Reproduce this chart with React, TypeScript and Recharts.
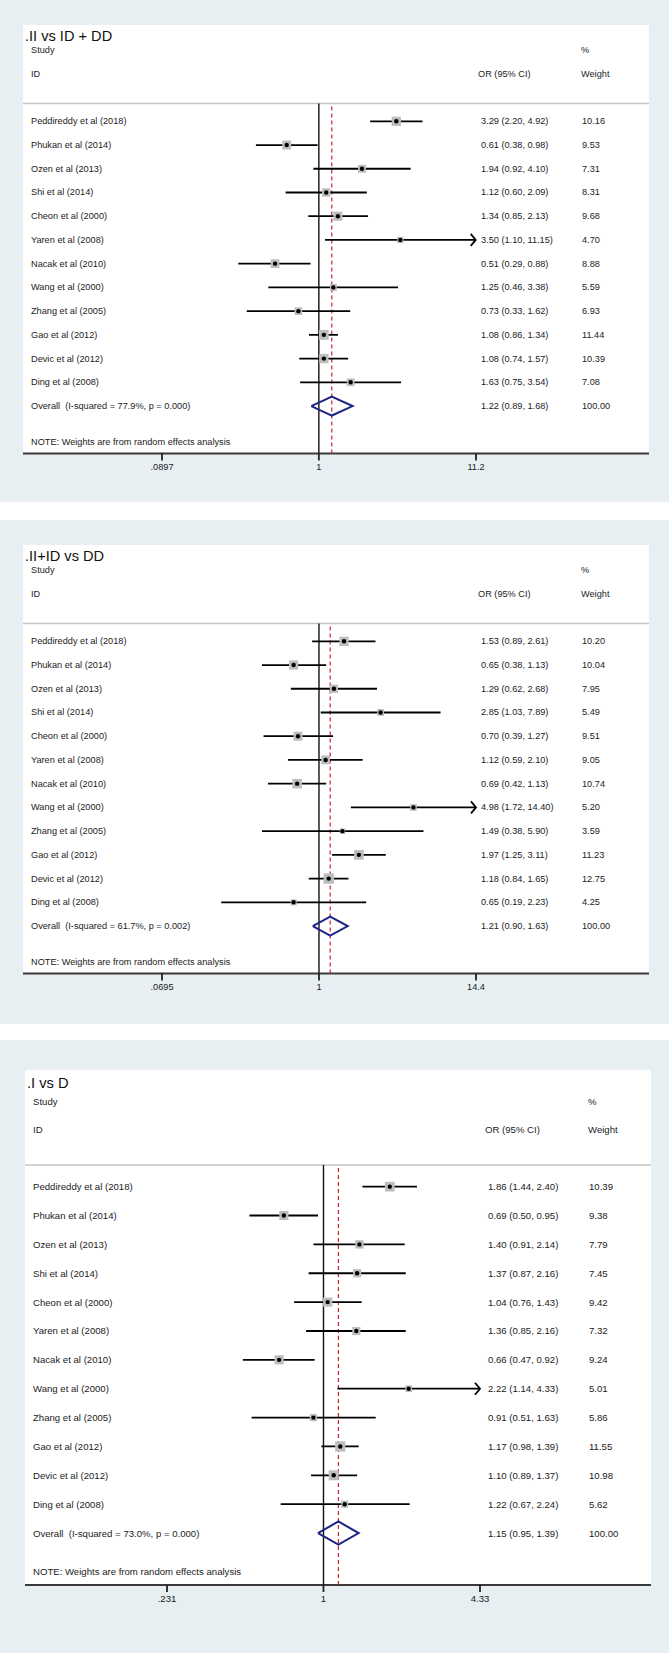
import React from 'react';
import { ScatterChart, Scatter, XAxis, YAxis, ReferenceLine, ErrorBar } from 'recharts';

const studies = [
  'Peddireddy et al (2018)', 'Phukan et al (2014)', 'Ozen et al (2013)', 'Shi et al (2014)',
  'Cheon et al (2000)', 'Yaren et al (2008)', 'Nacak et al (2010)', 'Wang et al (2000)',
  'Zhang et al (2005)', 'Gao et al (2012)', 'Devic et al (2012)', 'Ding et al (2008)',
];

// .II vs ID + DD
const orA = [3.29, 0.61, 1.94, 1.12, 1.34, 3.5, 0.51, 1.25, 0.73, 1.08, 1.08, 1.63];
const loA = [2.2, 0.38, 0.92, 0.6, 0.85, 1.1, 0.29, 0.46, 0.33, 0.86, 0.74, 0.75];
const hiA = [4.92, 0.98, 4.1, 2.09, 2.13, 11.15, 0.88, 3.38, 1.62, 1.34, 1.57, 3.54];
const wtA = [10.16, 9.53, 7.31, 8.31, 9.68, 4.7, 8.88, 5.59, 6.93, 11.44, 10.39, 7.08];
const overallA = [1.22, 0.89, 1.68];
const hetA = ['77.9%', '0.000'];
const arrowA = [5];
const ticksA = [0.0897, 1, 11.2];
const tickLabelsA = ['.0897', '1', '11.2'];

// .II+ID vs DD
const orB = [1.53, 0.65, 1.29, 2.85, 0.7, 1.12, 0.69, 4.98, 1.49, 1.97, 1.18, 0.65];
const loB = [0.89, 0.38, 0.62, 1.03, 0.39, 0.59, 0.42, 1.72, 0.38, 1.25, 0.84, 0.19];
const hiB = [2.61, 1.13, 2.68, 7.89, 1.27, 2.1, 1.13, 14.4, 5.9, 3.11, 1.65, 2.23];
const wtB = [10.2, 10.04, 7.95, 5.49, 9.51, 9.05, 10.74, 5.2, 3.59, 11.23, 12.75, 4.25];
const overallB = [1.21, 0.9, 1.63];
const hetB = ['61.7%', '0.002'];
const arrowB = [7];
const ticksB = [0.0695, 1, 14.4];
const tickLabelsB = ['.0695', '1', '14.4'];

// .I vs D
const orC = [1.86, 0.69, 1.4, 1.37, 1.04, 1.36, 0.66, 2.22, 0.91, 1.17, 1.1, 1.22];
const loC = [1.44, 0.5, 0.91, 0.87, 0.76, 0.85, 0.47, 1.14, 0.51, 0.98, 0.89, 0.67];
const hiC = [2.4, 0.95, 2.14, 2.16, 1.43, 2.16, 0.92, 4.33, 1.63, 1.39, 1.37, 2.24];
const wtC = [10.39, 9.38, 7.79, 7.45, 9.42, 7.32, 9.24, 5.01, 5.86, 11.55, 10.98, 5.62];
const overallC = [1.15, 0.95, 1.39];
const hetC = ['73.0%', '0.000'];
const arrowC = [7];
const ticksC = [0.231, 1, 4.33];
const tickLabelsC = ['.231', '1', '4.33'];

const FONT = '"Liberation Sans", Arial, Helvetica, sans-serif';
const W = 669;
const BG = '#e8eff2';
const INK = '#1b1b1b';

// layout of the first two panels (same export size)
const geomAB = {
  height: 502, boxTop: 25, boxLeft: 23, boxRight: 649, titleX: 25, titleY: 36,
  studyY: 50, idY: 74, sepY: 103.5, noteY: 442, axisY: 453.5, rowTop: -0.75, rowBottom: 14,
  plotLeft: 162, plotRight: 476, nameX: 31, orHeadX: 478, orX: 481, wX: 582,
  font: 9.2, titleFont: 14.6, boxK: 2.9,
};
const geomC = {
  height: 613, boxTop: 30, boxLeft: 25, boxRight: 651, titleX: 27, titleY: 43,
  studyY: 61, idY: 89, sepY: 125, noteY: 531, axisY: 545, rowTop: -0.75, rowBottom: 13.8,
  plotLeft: 167, plotRight: 480, nameX: 33, orHeadX: 485, orX: 488, wX: 589,
  font: 9.6, titleFont: 14.7, boxK: 3.0,
};

const TICK_LEN = 7;
const TICK_GAP = 3;

const fmtCI = (o: number, l: number, h: number) => `${o.toFixed(2)} (${l.toFixed(2)}, ${h.toFixed(2)})`;

function Panel({ top, title, or, lo, hi, wt, overall, het, arrows, ticks, tickLabels, g }: any) {
  const n = studies.length;
  const rows = studies.map((name, i) => ({
    x: or[i], y: i, name, orText: fmtCI(or[i], lo[i], hi[i]), wText: wt[i].toFixed(2), w: wt[i],
    err: [or[i] - lo[i], hi[i] - or[i]],
  }));
  const textRows = [
    ...rows,
    { x: overall[0], y: n, name: `Overall  (I-squared = ${het[0]}, p = ${het[1]})`, orText: fmtCI(overall[0], overall[1], overall[2]), wText: '100.00' },
  ];
  const diamond = [
    { x: overall[1], y: n }, { x: overall[0], y: n - 0.4 }, { x: overall[2], y: n },
    { x: overall[0], y: n + 0.4 }, { x: overall[1], y: n },
  ];
  const arrowPts = arrows.map((i: number) => ({ x: hi[i], y: i }));
  const xAxisH = 30;
  const margin = { top: g.sepY, bottom: g.height - g.axisY - xAxisH, left: g.plotLeft, right: W - g.plotRight };
  const txt = { fontFamily: FONT, fontSize: g.font, fill: INK };

  const TextRow = (p: any) => (
    <g>
      <text x={g.nameX} y={p.cy} dominantBaseline="central" xmlSpace="preserve" {...txt}>{p.payload.name}</text>
      <text x={g.orX} y={p.cy} dominantBaseline="central" {...txt}>{p.payload.orText}</text>
      <text x={g.wX} y={p.cy} dominantBaseline="central" {...txt}>{p.payload.wText}</text>
    </g>
  );
  const Box = (p: any) => {
    const s = g.boxK * Math.sqrt(p.payload.w);
    return <rect x={p.cx - s / 2} y={p.cy - s / 2} width={s} height={s} fill="#bdbdbd" />;
  };
  const Dot = (p: any) => <circle cx={p.cx} cy={p.cy} r={2.2} fill="#000" />;
  const Arrow = (p: any) => (
    <path d={`M${p.cx - 5},${p.cy - 6}L${p.cx},${p.cy}L${p.cx - 5},${p.cy + 6}`} fill="none" stroke="#000" strokeWidth={1.8} />
  );
  // tick mark + label drawn together, hanging below the axis line
  const Tick = (p: any) => {
    const idx = ticks.indexOf(p.payload.value);
    return (
      <g>
        <line x1={p.x} x2={p.x} y1={g.axisY} y2={g.axisY + TICK_LEN} stroke="#222" strokeWidth={1.8} />
        <text x={p.x} y={g.axisY + TICK_LEN + TICK_GAP} dy="0.71em" textAnchor="middle" {...txt}>
          {idx >= 0 ? tickLabels[idx] : String(p.payload.value)}
        </text>
      </g>
    );
  };

  return (
    <div style={{ position: 'absolute', left: 0, top, width: W, height: g.height, background: BG }}>
      <div style={{ position: 'absolute', left: g.boxLeft, top: g.boxTop, width: g.boxRight - g.boxLeft, height: g.axisY - g.boxTop, background: '#fff' }} />
      <svg width={W} height={g.height} style={{ position: 'absolute', left: 0, top: 0 }}>
        <text x={g.titleX} y={g.titleY} dominantBaseline="central" fontFamily={FONT} fontSize={g.titleFont} fill="#111">{title}</text>
        <text x={g.nameX} y={g.studyY} dominantBaseline="central" {...txt}>Study</text>
        <text x={g.wX - 1} y={g.studyY} dominantBaseline="central" {...txt}>%</text>
        <text x={g.nameX} y={g.idY} dominantBaseline="central" {...txt}>ID</text>
        <text x={g.orHeadX} y={g.idY} dominantBaseline="central" {...txt}>OR (95% CI)</text>
        <text x={g.wX - 1} y={g.idY} dominantBaseline="central" {...txt}>Weight</text>
        <line x1={g.boxLeft} x2={g.boxRight} y1={g.sepY} y2={g.sepY} stroke="#c4c4c4" strokeWidth={1.5} />
        <text x={g.nameX} y={g.noteY} dominantBaseline="central" {...txt}>NOTE: Weights are from random effects analysis</text>
        <line x1={g.boxLeft} x2={g.boxRight} y1={g.axisY} y2={g.axisY} stroke="#3a3a3a" strokeWidth={2.2} />
      </svg>
      <div style={{ position: 'absolute', left: 0, top: 0 }}>
        <ScatterChart width={W} height={g.height} margin={margin}>
          <XAxis
            type="number" dataKey="x" scale="log" domain={[ticks[0], ticks[2]]} ticks={ticks} interval={0}
            axisLine={false} tickLine={false} tick={Tick} height={xAxisH}
          />
          <YAxis type="number" dataKey="y" domain={[g.rowTop, g.rowBottom]} reversed hide width={0} />
          <ReferenceLine x={1} stroke="#111" strokeWidth={1.4} />
          <ReferenceLine x={overall[0]} stroke="#c0282d" strokeWidth={1.2} strokeDasharray="4 3" />
          <Scatter data={rows} shape={Box} isAnimationActive={false} />
          <Scatter data={rows} shape={Dot} isAnimationActive={false}>
            <ErrorBar dataKey="err" direction="x" width={0} stroke="#000" strokeWidth={1.8} />
          </Scatter>
          <Scatter data={arrowPts} shape={Arrow} isAnimationActive={false} />
          <Scatter data={diamond} line={{ stroke: '#1c2486', strokeWidth: 2 }} shape={() => <g />} isAnimationActive={false} />
          <Scatter data={textRows} shape={TextRow} isAnimationActive={false} />
        </ScatterChart>
      </div>
    </div>
  );
}

export default function App() {
  return (
    <div style={{ position: 'absolute', left: 0, top: 0, width: W, height: 1653, background: '#fff' }}>
      <Panel top={0} title=".II vs ID + DD" or={orA} lo={loA} hi={hiA} wt={wtA} overall={overallA} het={hetA}
        arrows={arrowA} ticks={ticksA} tickLabels={tickLabelsA} g={geomAB} />
      <Panel top={520} title=".II+ID vs DD" or={orB} lo={loB} hi={hiB} wt={wtB} overall={overallB} het={hetB}
        arrows={arrowB} ticks={ticksB} tickLabels={tickLabelsB} g={{ ...geomAB, height: 504 }} />
      <Panel top={1040} title=".I vs D" or={orC} lo={loC} hi={hiC} wt={wtC} overall={overallC} het={hetC}
        arrows={arrowC} ticks={ticksC} tickLabels={tickLabelsC} g={geomC} />
    </div>
  );
}
